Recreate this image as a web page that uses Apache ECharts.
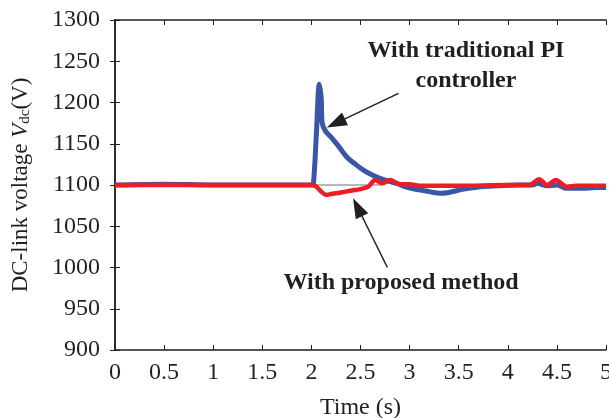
<!DOCTYPE html>
<html>
<head>
<meta charset="utf-8">
<script src="https://cdn.jsdelivr.net/npm/echarts@6/dist/echarts.min.js"></script>
<style>html,body{margin:0;padding:0;background:#fff;}#c{width:609px;height:418px;}</style>
</head>
<body>
<div id="c"></div>
<script>
// Time ticks (s) and voltage ticks (V)
var xTicks = [0, 0.5, 1, 1.5, 2, 2.5, 3, 3.5, 4, 4.5, 5];
var yTicks = [900, 950, 1000, 1050, 1100, 1150, 1200, 1250, 1300];

// With traditional PI controller (blue)
var piTime = [0, 0.5, 1, 1.5, 2, 2.02, 2.05, 2.08, 2.1, 2.11, 2.145, 2.2, 2.27, 2.36, 2.45, 2.53, 2.62, 2.7, 2.8, 2.87, 2.95, 3.05, 3.2, 3.31, 3.4, 3.55, 3.72, 3.9, 4.1, 4.25, 4.3, 4.4, 4.5, 4.6, 4.75, 4.9, 5];
var piVolt = [1100, 1101, 1100, 1100, 1100, 1101, 1160, 1222, 1205, 1175, 1165, 1158, 1148, 1134, 1125, 1118, 1112, 1108, 1104, 1102, 1098, 1095, 1092, 1090, 1091, 1095, 1098, 1099, 1100, 1100, 1102, 1099, 1100, 1096, 1096, 1097, 1097];

// With proposed method (red)
var propTime = [0, 2, 2.04, 2.1, 2.15, 2.2, 2.3, 2.4, 2.5, 2.58, 2.65, 2.72, 2.8, 2.9, 3.0, 3.1, 3.5, 4.0, 4.22, 4.32, 4.4, 4.49, 4.6, 4.7, 5];
var propVolt = [1100, 1100, 1099, 1092, 1088, 1089, 1091, 1093, 1095, 1098, 1106, 1102, 1106, 1101, 1101, 1099, 1099, 1100, 1100, 1107, 1100, 1106, 1098, 1099, 1099];

// Reference level line
var refTime = [2.03, 2.72];
var refVolt = [1100, 1100];

// Annotation arrows [tail, head] in data units
var arrowPI = [[2.887, 1211], [2.25, 1175]];
var arrowProp = [[2.774, 1000], [2.47, 1073]];

function zip(a, b) { return a.map(function (v, i) { return [v, b[i]]; }); }

var font = "'Liberation Serif', 'Times New Roman', serif";
var axisColor = '#231f20';

var chart = echarts.init(document.getElementById('c'), null, {renderer: 'canvas'});

function annot(text, x, y) {
  return {
    type: 'text', x: x, y: y, z: 10,
    style: {text: text, fontFamily: font, fontSize: 24, fontWeight: 'bold', fill: '#231f20',
            align: 'center', verticalAlign: 'middle', textAlign: 'center', textVerticalAlign: 'middle'}
  };
}

chart.setOption({
  animation: false,
  backgroundColor: '#fff',
  grid: {left: 115, right: 3, top: 20, bottom: 68, containLabel: false, outerBoundsMode: 'none'},
  xAxis: [{
    type: 'value', min: xTicks[0], max: xTicks[xTicks.length - 1], interval: 0.5,
    name: 'Time (s)', nameLocation: 'middle', nameGap: 46,
    nameTextStyle: {fontFamily: font, fontSize: 24, color: axisColor},
    axisLine: {show: true, lineStyle: {color: axisColor, width: 1.5}},
    axisTick: {show: true, inside: true, length: 5, lineStyle: {color: axisColor, width: 1}},
    axisLabel: {fontFamily: font, fontSize: 24, color: axisColor, margin: 11, formatter: function (v) { return String(v); }},
    splitLine: {show: false}
  }, {
    type: 'value', position: 'top', min: xTicks[0], max: xTicks[xTicks.length - 1], interval: 0.5,
    axisLine: {show: true, lineStyle: {color: axisColor, width: 1.5}},
    axisTick: {show: true, inside: true, length: 5, lineStyle: {color: axisColor, width: 1}},
    axisLabel: {show: false}, splitLine: {show: false}
  }],
  yAxis: [{
    type: 'value', min: yTicks[0], max: yTicks[yTicks.length - 1], interval: 50,
    name: '{a|DC-link voltage }{i|V}{s|dc}{a|(V)}', nameLocation: 'middle', nameGap: 82,
    nameTextStyle: {
      fontFamily: font, fontSize: 23, color: axisColor,
      rich: {
        a: {fontFamily: font, fontSize: 23, color: axisColor},
        i: {fontFamily: font, fontSize: 23, fontStyle: 'italic', color: axisColor},
        s: {fontFamily: font, fontSize: 15, color: axisColor, padding: [9, 0, 0, 0]}
      }
    },
    axisLine: {show: true, lineStyle: {color: axisColor, width: 1.5}},
    axisTick: {show: true, inside: true, length: 5, lineStyle: {color: axisColor, width: 1}},
    axisLabel: {fontFamily: font, fontSize: 24, color: axisColor, margin: 15, formatter: function (v) { return String(v); }},
    splitLine: {show: false}
  }, {
    type: 'value', position: 'right', min: yTicks[0], max: yTicks[yTicks.length - 1], interval: 50,
    axisLine: {show: true, lineStyle: {color: axisColor, width: 1.5}},
    axisTick: {show: true, inside: true, length: 5, lineStyle: {color: axisColor, width: 1}},
    axisLabel: {show: false}, splitLine: {show: false}
  }],
  series: [{
    name: 'With traditional PI controller', type: 'line', z: 2,
    data: zip(piTime, piVolt), showSymbol: false, smooth: 0.3,
    lineStyle: {color: '#3b56a6', width: 5},
    markLine: {
      silent: true, symbol: ['none', 'triangle'], symbolSize: [14, 20],
      lineStyle: {color: '#231f20', width: 1.5, type: 'solid'},
      itemStyle: {color: '#231f20'},
      label: {show: false},
      data: [[{coord: arrowPI[0]}, {coord: arrowPI[1]}]]
    }
  }, {
    name: 'ref', type: 'line', z: 3,
    data: zip(refTime, refVolt), showSymbol: false,
    lineStyle: {color: '#a0a0a0', width: 1.5}
  }, {
    name: 'With proposed method', type: 'line', z: 4,
    data: zip(propTime, propVolt), showSymbol: false, smooth: 0.3,
    lineStyle: {color: '#ee1c25', width: 4.5},
    markLine: {
      silent: true, symbol: ['none', 'triangle'], symbolSize: [14, 20],
      lineStyle: {color: '#231f20', width: 1.5, type: 'solid'},
      itemStyle: {color: '#231f20'},
      label: {show: false},
      data: [[{coord: arrowProp[0]}, {coord: arrowProp[1]}]]
    }
  }],
  graphic: [
    annot('With traditional PI', 466, 51),
    annot('controller', 466, 81),
    annot('With proposed method', 401, 283)
  ]
});
</script>
</body>
</html>
